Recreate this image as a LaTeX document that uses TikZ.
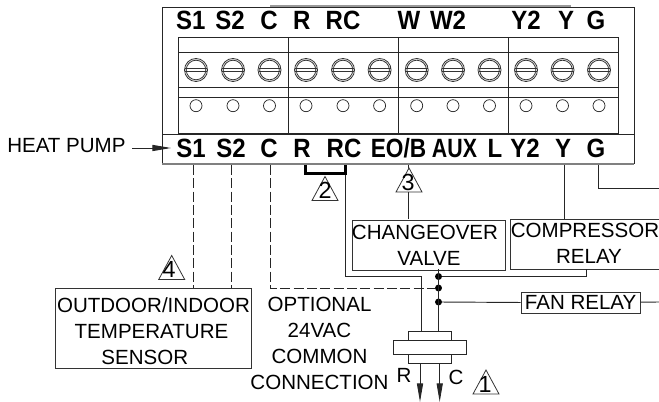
\documentclass[tikz,border=0pt]{standalone}
\usepackage{fontspec}
\setmainfont{Liberation Sans}
\usetikzlibrary{arrows.meta}
\newcommand{\tallbf}[1]{\scalebox{1}[1.1]{#1}}
\tikzset{
  wire/.style={draw=black!85,line width=0.7pt},
  dashwire/.style={wire,dash pattern=on 7.5pt off 2.5pt},
  boxn/.style={draw=black!80,line width=0.7pt,inner sep=0pt,align=center,font=\fontsize{15.4}{19.5}\selectfont},
  lab/.style={inner sep=0pt,anchor=base,font=\fontsize{15.4}{19.5}\selectfont},
  term/.style={inner sep=0pt,anchor=base,font=\fontsize{18}{20}\selectfont\bfseries},
  tnum/.style={inner sep=0pt,font=\fontsize{17.5}{18}\selectfont},
  dot/.style={circle,fill=black,inner sep=0pt,minimum size=5.2pt},
  tip/.style={-{Stealth[length=14pt,width=4.6pt,inset=0pt]}},
  grid/.style={draw=black!85,line width=0.7pt},
  tri/.pic={\draw[draw=black!80,line width=0.6pt,fill=white] (-13,24)--(0,0)--(13,24)--cycle;}
}
\begin{document}
\begin{tikzpicture}[x=0.75pt,y=-0.75pt]
\useasboundingbox (0,0) rectangle (659,402);
% terminal block
\node[grid,minimum width=354pt,minimum height=95.2pt,inner sep=0pt,anchor=north west] (outer) at (162,7) {};
\draw[gray!80,line width=1pt] (270,6)--(571,6);
\node[grid,fill=white,minimum width=354pt,minimum height=21.7pt,inner sep=0pt,anchor=north west] (strip) at (162,134.5) {};
\draw[gray,line width=1.3pt] (162,164)--(634,164);
\draw[grid] (178,37) rectangle (618,133.5);
\draw[grid] (178,52)--(618,52) (178,87)--(618,87) (178,97)--(618,97);
\foreach \x in {288,398,508} \draw[grid] (\x,37)--(\x,133.5);
\foreach \x in {196,233,269.5,306,343,379.6,416.7,453,489.5,526,562.5,599}{
  \draw[draw=black!80,line width=0.6pt] (\x,70) circle[radius=11.5] (\x,70) circle[radius=9.8];
  \draw[draw=black!80,line width=0.6pt] (\x-11,68.6)--(\x+11,68.6) (\x-11,71.6)--(\x+11,71.6);
  \draw[draw=black!85,line width=0.55pt] (\x,105.7) circle[radius=6];
}
% upper labels
\foreach \n/\x/\t in {a/190.7/S1,b/230/S2,c/269/C,d/301.7/R,e/343/RC,f/409/W,g/448/W2,h/526/Y2,i/566/Y,j/596/G}
  \node[term] (top\n) at (\x,30) {\tallbf{\t}};
% lower labels
\foreach \n/\x/\t in {a/191/S1,b/231/S2,c/269/C,d/302/R,e/344/RC,h/495/L,i/525/Y2,j/563/Y,k/596/G}
  \node[term] (bot\n) at (\x,157.5) {\tallbf{\t}};
\node[term,font=\fontsize{17}{20}\selectfont\bfseries] (bote) at (398.5,157.5) {\scalebox{1}[1.165]{EO/B}};
\node[term,font=\fontsize{16}{20}\selectfont\bfseries] (botx) at (454.5,157.5) {\scalebox{1}[1.24]{AUX}};
% terminal points
\coordinate (tS1) at (193.5,165);
\coordinate (tS2) at (231,165);
\coordinate (tC) at (270,165);
\coordinate (tR) at (305.5,165);
\coordinate (tRC) at (345.5,165);
\coordinate (tOB) at (408.5,165);
\coordinate (tY) at (564,165);
\coordinate (tG) at (598,165);
% boxes
\node[boxn,minimum width=147pt,minimum height=60pt,anchor=north west] (sensor) at (55,288) {\rule{0pt}{15.5pt}OUTDOOR/INDOOR\\\hspace*{-3pt}TEMPERATURE\\\hspace*{-13pt}SENSOR};
\node[boxn,minimum width=114.3pt,minimum height=37.5pt,anchor=north west] (valve) at (352.3,219.8) {\hspace*{-6pt}CHANGEOVER\\VALVE};
\draw[draw=black!80,line width=0.7pt] (665,219)--(510,219)--(510,269)--(665,269);
\node[lab] (comp) at (585,238) {COMPRESSOR};
\node[lab] (compb) at (589,263) {RELAY};
\node[boxn,minimum width=89.2pt,minimum height=16pt,anchor=north west] (fan) at (520.7,291.7) {FAN RELAY};
\node[lab,align=center,anchor=north] (opt) at (319.5,296.5) {OPTIONAL\\24VAC\\COMMON\\CONNECTION};
\node[lab,anchor=west] (hp) at (7,146) {HEAT PUMP};
\node[lab] (lr) at (404,382) {R};
\node[lab] (lc) at (456,384) {C};
% junctions
\node[dot] (d1) at (438.5,276.5) {};
\node[dot] (d2) at (438.5,288) {};
\node[dot] (d3) at (438.5,302) {};
\coordinate (valveb) at (438.5,269);
\coordinate (compb2) at (586.7,269);
\coordinate (compt) at (564,219);
\coordinate (offG) at (659,188);
\coordinate (offF) at (659,302);
% connector block
\node[grid,fill=white,minimum width=32.5pt,minimum height=24.4pt,inner sep=0pt] (blockin) at (430,347.3) {};
\node[grid,fill=white,minimum width=55.3pt,minimum height=10pt,inner sep=0pt] (block) at (430,347.3) {};
\coordinate (blR) at (421,331);
\coordinate (blC) at (438.5,331);
\coordinate (outR) at (420,363.6);
\coordinate (outC) at (439.7,363.6);
\coordinate (endR) at (420,402);
\coordinate (endC) at (439.7,402);
% wires
\draw[dashwire] (tS1)--(193.5,288);
\draw[dashwire] (tS2)--(231,288);
\draw[dashwire] (tC)--(270,288)--(d2);
\draw[wire] (tRC)--(345.5,276.5)--(421,276.5)--(blR);
\draw[wire] (valveb)--(blC);
\draw[wire] (d1)--(586.7,276.5)--(compb2);
\draw[wire] (d3)--(fan);
\draw[wire] (fan)--(offF);
\draw[wire] (tOB)--(408.5,219);
\draw[wire] (tY)--(compt);
\draw[wire] (tG)--(598,188)--(offG);
\draw[black,line width=2.2pt,line join=miter] (tR)--(305.5,173.5)--(345.5,173.5)--(tRC);
\draw[wire,tip] (outR)--(endR);
\draw[wire,tip] (outC)--(endC);
\coordinate (hpe) at (132,148);
\coordinate (hpt) at (171,148);
\draw[wire,tip] (hpe)--(hpt);
% numbered triangles
\pic at (325,176.5) {tri}; \node[tnum] (n2) at (325,190.5) {2};
\pic at (409,168) {tri}; \node[tnum] (n3) at (408,182) {3};
\pic at (171.7,255.5) {tri}; \node[tnum] (n4) at (169,269.5) {4};
\pic at (486,370) {tri}; \node[tnum] (n1) at (485,384) {1};
\end{tikzpicture}
\end{document}
